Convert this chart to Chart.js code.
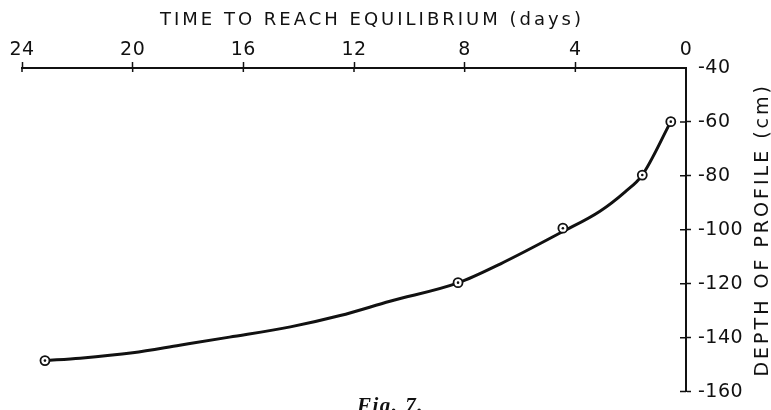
<!DOCTYPE html>
<html><head><meta charset="utf-8">
<script src="https://cdn.jsdelivr.net/npm/chart.js@4.4.1/dist/chart.umd.min.js"></script>
<style>html,body{margin:0;padding:0;background:#fff}#wrap{width:771px;height:410px}</style>
</head><body><div id="wrap"><canvas id="c" width="771" height="410"></canvas></div>
<script>
// Observed points (days to equilibrium, depth of profile in cm)
const pointDays  = [23.17, 8.24, 4.45, 1.58, 0.55];
const pointDepth = [-148.5, -119.6, -99.4, -79.7, -59.9];
// Hand-drawn smooth curve
const curveDays  = [23.17, 21.9, 20.0, 18.3, 16.5, 14.3, 12.5, 10.7, 8.24, 6.7, 4.48, 3.11, 2.2, 1.58, 0.55];
const curveDepth = [-148.5, -147.6, -145.6, -142.8, -139.8, -136.0, -131.8, -126.5, -119.7, -112.6, -100.8, -93.1, -85.9, -79.7, -59.9];
const xTickValues = [0, 4, 8, 12, 16, 20, 24];
const yTickValues = [-40, -60, -80, -100, -120, -140, -160];
const xTitle = 'TIME TO REACH EQUILIBRIUM (days)';
const yTitle = 'DEPTH OF PROFILE (cm)';
const caption = 'Fig. 7.';

const ink = '#111';
const pts = pointDays.map((d, i) => ({x: d, y: pointDepth[i]}));
const curve = curveDays.map((d, i) => ({x: d, y: curveDepth[i]}));

const decor = {
  id: 'decor',
  beforeDraw(chart) { chart.ctx.letterSpacing = '0.5px'; },
  afterDraw(chart) {
    const ctx = chart.ctx, xs = chart.scales.x, ys = chart.scales.y, a = chart.chartArea;
    ctx.save();
    ctx.strokeStyle = ink; ctx.lineWidth = 1.5;
    ctx.beginPath();
    xTickValues.forEach(v => { if (v === 0) return; const p = xs.getPixelForValue(v); ctx.moveTo(p, a.top); ctx.lineTo(p, a.top + 4); });
    yTickValues.forEach(v => { if (v === -40) return; const p = ys.getPixelForValue(v); ctx.moveTo(a.right, p); ctx.lineTo(a.right - 6, p); });
    ctx.stroke();
    ctx.fillStyle = ink;
    ctx.letterSpacing = '3px';
    ctx.font = '18px "DejaVu Sans"';
    ctx.textAlign = 'center'; ctx.textBaseline = 'alphabetic';
    ctx.fillText(xTitle, 372, 25);
    ctx.save();
    ctx.translate(768, (a.top + a.bottom) / 2);
    ctx.rotate(-Math.PI / 2);
    ctx.font = '19px "DejaVu Sans"';
    ctx.fillText(yTitle, 0, 0);
    ctx.restore();
    ctx.letterSpacing = '1.5px';
    ctx.font = 'italic bold 21px "Liberation Serif"';
    ctx.textAlign = 'left';
    ctx.fillText(caption, 357, 412);
    ctx.restore();
    ctx.letterSpacing = '0px';
  }
};

new Chart(document.getElementById('c'), {
  type: 'line',
  data: {
    datasets: [
      { data: pts, showLine: false, pointRadius: 1.3, pointBackgroundColor: ink, pointBorderWidth: 0, order: 0 },
      { data: pts, showLine: false, pointRadius: 4.5, pointBackgroundColor: '#fff', pointBorderColor: ink, pointBorderWidth: 1.8, order: 1 },
      { data: curve, borderColor: ink, borderWidth: 3, pointRadius: 0, cubicInterpolationMode: 'monotone', fill: false, order: 2 }
    ]
  },
  options: {
    responsive: false, animation: false,
    layout: { padding: { left: 22, right: 0, top: 0, bottom: 10 } },
    plugins: { legend: { display: false }, tooltip: { enabled: false } },
    scales: {
      x: {
        type: 'linear', position: 'top', reverse: true, min: 0, max: 24,
        afterFit(s) { s.height = 68; },
        afterBuildTicks(s) { s.ticks = xTickValues.map(v => ({value: v})); },
        ticks: { color: ink, font: { family: 'DejaVu Sans', size: 19 }, padding: 1, maxRotation: 0, autoSkip: false },
        grid: { drawOnChartArea: false, drawTicks: true, tickLength: 6, tickWidth: 1.5,
                tickColor: c => (c.tick && c.tick.value === 0) ? 'rgba(0,0,0,0)' : ink },
        border: { display: true, color: ink, width: 2 }
      },
      y: {
        type: 'linear', position: 'right', min: -160, max: -40,
        afterFit(s) { s.width = 85; },
        afterBuildTicks(s) { s.ticks = yTickValues.map(v => ({value: v})); },
        ticks: { color: ink, font: { family: 'DejaVu Sans', size: 19 }, padding: 7, autoSkip: false },
        grid: { drawOnChartArea: false, drawTicks: true, tickLength: 5, tickWidth: 1.5,
                tickColor: c => (c.tick && c.tick.value === -40) ? 'rgba(0,0,0,0)' : ink },
        border: { display: true, color: ink, width: 2 }
      }
    }
  },
  plugins: [decor]
});
</script>
</body></html>
